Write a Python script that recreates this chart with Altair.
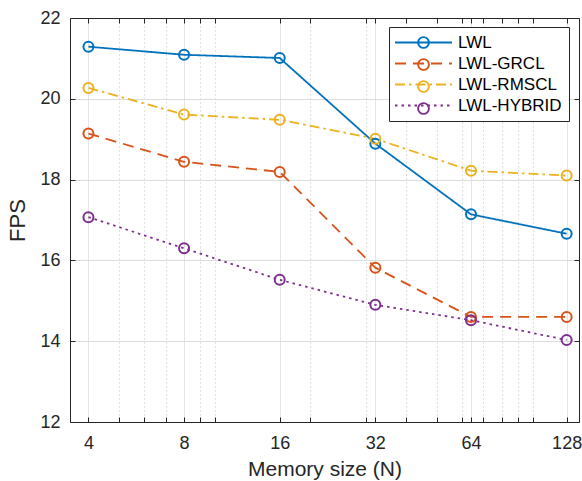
import altair as alt
import pandas as pd

# ---- data ----
memory = [4, 8, 16, 32, 64, 128]
series_names = ["LWL", "LWL-GRCL", "LWL-RMSCL", "LWL-HYBRID"]
lwl = [21.29, 21.09, 21.01, 18.89, 17.14, 16.66]
grcl = [19.14, 18.44, 18.19, 15.82, 14.60, 14.60]
rmscl = [20.27, 19.61, 19.48, 19.01, 18.22, 18.10]
hybrid = [17.07, 16.30, 15.52, 14.90, 14.52, 14.03]

major_ticks = [4, 8, 16, 32, 64, 128]
minor_ticks = [5, 6, 7, 9, 10, 20, 30, 40, 50, 60, 70, 80, 90, 100]
y_ticks = [12, 14, 16, 18, 20, 22]

colors = ["#0072BD", "#D95319", "#EDB120", "#7E2F8E"]
dashes = [[1, 0], [11, 7], [10, 4, 2.5, 4], [2.5, 4]]

rows = []
for name, vals in zip(series_names, [lwl, grcl, rmscl, hybrid]):
    for m, v in zip(memory, vals):
        rows.append({"memory": m, "fps": v, "series": name})
df = pd.DataFrame(rows)

all_ticks = sorted(set(major_ticks + minor_ticks))

W, H = 509, 404
FONT = "Liberation Sans"
DARK = "#262626"

xscale = alt.Scale(type="log", domain=[3.5, 140], nice=False)
yscale = alt.Scale(domain=[12, 22], nice=False, zero=False)
color_scale = alt.Scale(domain=series_names, range=colors)
dash_scale = alt.Scale(domain=series_names, range=dashes)

major_test = "indexof([" + ",".join(str(t) for t in major_ticks) + "], datum.value) >= 0"

x_axis_main = alt.Axis(
    values=all_ticks,
    labelExpr=f"({major_test}) ? ('' + datum.value) : ''",
    labelOverlap=False,
    ticks=False, tickSize=0,
    grid=True,
    gridColor={"condition": {"test": major_test, "value": "#dcdcdc"}, "value": "#c2c2c2"},
    gridDash={"condition": {"test": major_test, "value": [1, 0]}, "value": [1, 3]},
    gridWidth=1,
    domainColor=DARK, domainWidth=1,
    labelFont=FONT, labelFontSize=18, labelColor=DARK, labelPadding=12,
    title="Memory size (N)", titleFont=FONT, titleFontSize=21,
    titleFontWeight="normal", titleColor=DARK, titlePadding=6,
)
y_axis_main = alt.Axis(
    values=y_ticks,
    ticks=False, tickSize=0,
    grid=True, gridColor="#dcdcdc", gridWidth=1,
    domainColor=DARK, domainWidth=1,
    labelFont=FONT, labelFontSize=18, labelColor=DARK, labelPadding=10,
    title="FPS", titleFont=FONT, titleFontSize=22,
    titleFontWeight="normal", titleColor=DARK, titlePadding=10,
)

legend_common = dict(
    title=None, orient="none", legendX=319, legendY=9,
    symbolSize=225, symbolStrokeWidth=1.9, symbolOffset=19,
    labelOffset=26, labelFont=FONT, labelFontSize=17, labelColor="#000000",
    padding=7, rowPadding=3, labelLimit=300,
)
legend_lines = alt.Legend(
    symbolType="M-3.8,0H3.8",
    strokeColor=DARK, fillColor="white", cornerRadius=0,
    **legend_common,
)
legend_points = alt.Legend(
    symbolType="M0.72,0A0.72,0.72,0,1,1,-0.72,0A0.72,0.72,0,1,1,0.72,0Z",
    labelExpr="''",
    **legend_common,
)

base = alt.Chart(df)

lines = base.mark_line(strokeWidth=1.8).encode(
    x=alt.X("memory:Q", scale=xscale, axis=x_axis_main),
    y=alt.Y("fps:Q", scale=yscale, axis=y_axis_main),
    color=alt.Color("series:N", scale=color_scale, legend=legend_lines),
    strokeDash=alt.StrokeDash("series:N", scale=dash_scale, legend=legend_lines),
)

points = base.mark_point(shape="circle", filled=False, size=100, strokeWidth=2, opacity=1).encode(
    x=alt.X("memory:Q", scale=xscale, axis=None),
    y=alt.Y("fps:Q", scale=yscale, axis=None),
    color=alt.Color("series:N", scale=color_scale, legend=legend_points),
)

tick_common = dict(labels=False, grid=False, ticks=True, tickSize=5,
                   tickColor=DARK, tickWidth=1, title=None, domainColor=DARK, domainWidth=1)

# inner ticks along bottom / left edges (no domain)
ticks_a = base.mark_point(opacity=0).encode(
    x=alt.X("memory:Q", scale=xscale,
            axis=alt.Axis(orient="top", offset=-H, values=all_ticks, domain=False, **tick_common)),
    y=alt.Y("fps:Q", scale=yscale,
            axis=alt.Axis(orient="right", offset=-W, values=y_ticks, domain=False, **tick_common)),
)
# inner ticks along top / right edges, with box lines
ticks_b = base.mark_point(opacity=0).encode(
    x=alt.X("memory:Q", scale=xscale,
            axis=alt.Axis(orient="bottom", offset=-H, values=all_ticks, domain=True, **tick_common)),
    y=alt.Y("fps:Q", scale=yscale,
            axis=alt.Axis(orient="left", offset=-W, values=y_ticks, domain=True, **tick_common)),
)

chart = alt.layer(lines, points, ticks_a, ticks_b).resolve_axis(
    x="independent", y="independent"
).resolve_legend(
    color="independent", strokeDash="independent"
).properties(
    width=W, height=H,
    autosize=alt.AutoSizeParams(type="none"),
    padding={"left": 70, "top": 18, "right": 3, "bottom": 59},
    background="white",
).configure_view(stroke=None)

chart.save("out.html", embed_options={"renderer": "svg", "actions": False})
